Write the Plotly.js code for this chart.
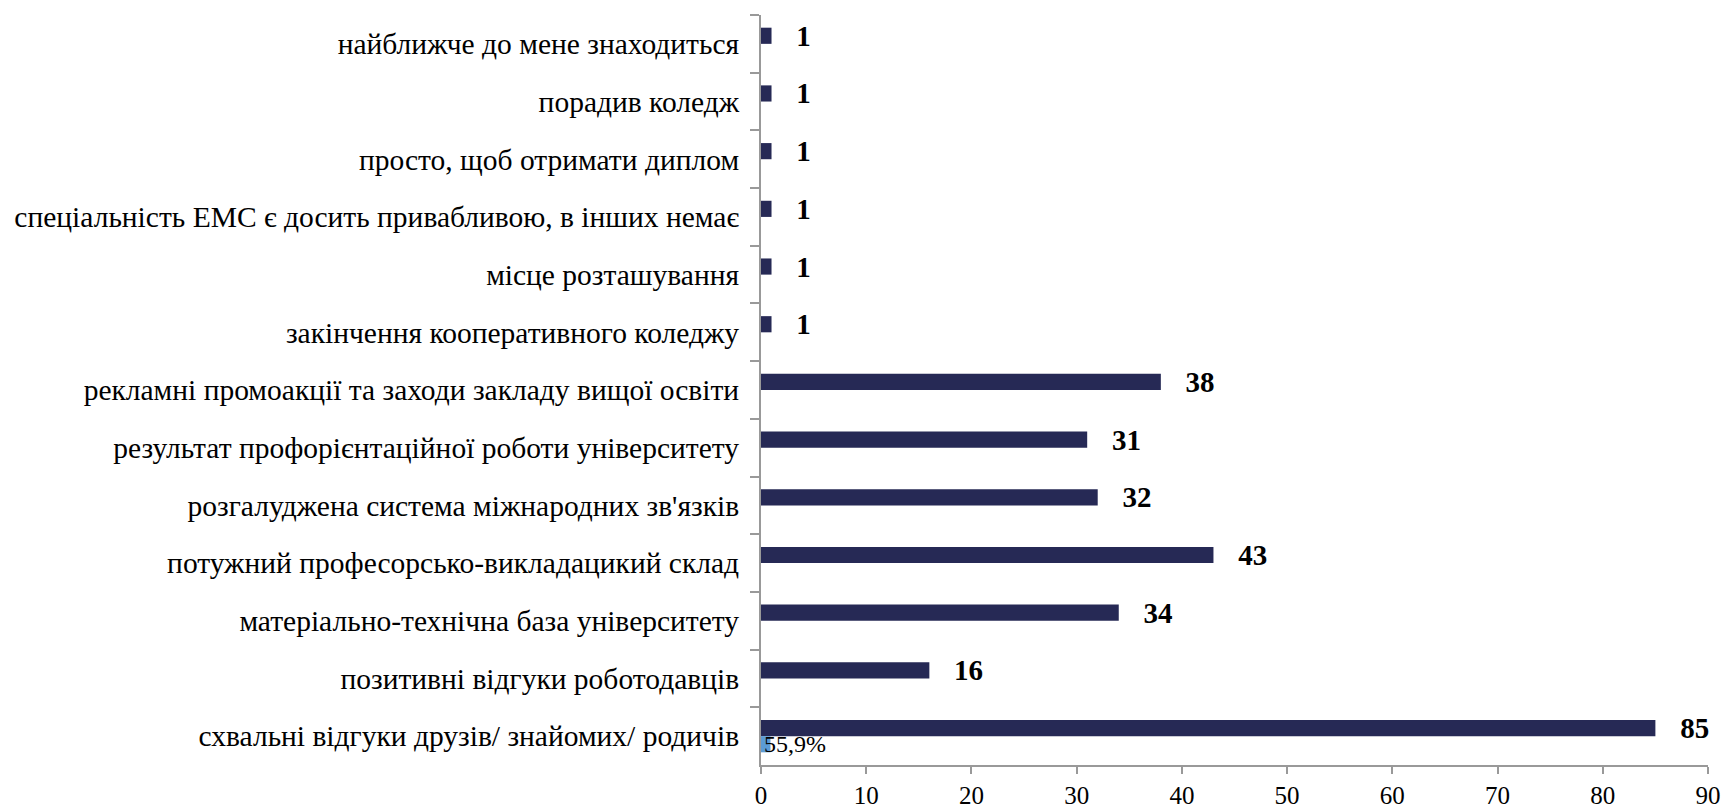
<!DOCTYPE html>
<html>
<head>
<meta charset="utf-8">
<script src="https://cdn.plot.ly/plotly-3.0.1.min.js"></script>
<style>html,body{margin:0;padding:0;background:#fff;}</style>
</head>
<body>
<div id="chart" style="width:1725px;height:809px;"></div>
<script>
// Categories, top to bottom as shown in the reference
const categories = [
  "найближче до мене знаходиться",
  "порадив коледж",
  "просто, щоб отримати диплом",
  "спеціальність ЕМС є досить привабливою, в інших немає",
  "місце розташування",
  "закінчення кооперативного коледжу",
  "рекламні промоакції та заходи закладу вищої освіти",
  "результат профорієнтаційної роботи університету",
  "розгалуджена система міжнародних зв'язків",
  "потужний професорсько-викладацикий склад",
  "матеріально-технічна база університету",
  "позитивні відгуки роботодавців",
  "схвальні відгуки друзів/ знайомих/ родичів"
];
const counts = [1, 1, 1, 1, 1, 1, 38, 31, 32, 43, 34, 16, 85];
// second (small) series: only the last category carries a value and label
const shareValues = [null, null, null, null, null, null, null, null, null, null, null, null, 0.9];
const shareLabels = ["", "", "", "", "", "", "", "", "", "", "", "", "55,9%"];
const xTicks = [0, 10, 20, 30, 40, 50, 60, 70, 80, 90];

const serif = "Liberation Serif";

const traces = [
  {
    type: 'bar', orientation: 'h',
    y: categories, x: counts,
    marker: {color: '#262955'},
    texttemplate: '   %{x}',
    textposition: 'outside',
    constraintext: 'none',
    textfont: {family: serif, size: 29, color: '#000', weight: 'bold'},
    cliponaxis: false,
    hoverinfo: 'x+y'
  },
  {
    type: 'bar', orientation: 'h',
    y: categories, x: shareValues,
    marker: {color: '#5B9BD5'},
    text: shareLabels,
    textposition: 'inside',
    insidetextanchor: 'start',
    constraintext: 'none',
    textangle: 0,
    textfont: {family: serif, size: 24, color: '#000'},
    cliponaxis: false,
    hoverinfo: 'x+y'
  }
];

const layout = {
  width: 1725, height: 809,
  margin: {l: 761, r: 17, t: 15, b: 44},
  paper_bgcolor: '#fff', plot_bgcolor: '#fff',
  barmode: 'group',
  bargap: 0.44, bargroupgap: 0,
  showlegend: false,
  font: {family: serif, color: '#000'},
  xaxis: {
    range: [0, 90],
    tickvals: xTicks,
    ticktext: xTicks.map(String),
    showgrid: false, zeroline: false,
    showline: true, linecolor: '#999999', linewidth: 2,
    ticks: 'outside', ticklen: 7, tickcolor: '#999999', tickwidth: 2,
    tickfont: {family: serif, size: 25, color: '#000'}
  },
  yaxis: {
    type: 'category',
    autorange: 'reversed',
    showgrid: false, zeroline: false,
    showline: true, linecolor: '#999999', linewidth: 2,
    ticks: 'outside', ticklen: 9, tickcolor: '#999999', tickwidth: 2,
    tickson: 'boundaries',
    ticklabelstandoff: 14,
    tickfont: {family: serif, size: 29.5, color: '#000'}
  }
};

Plotly.newPlot('chart', traces, layout, {displayModeBar: false, staticPlot: true});
</script>
</body>
</html>
